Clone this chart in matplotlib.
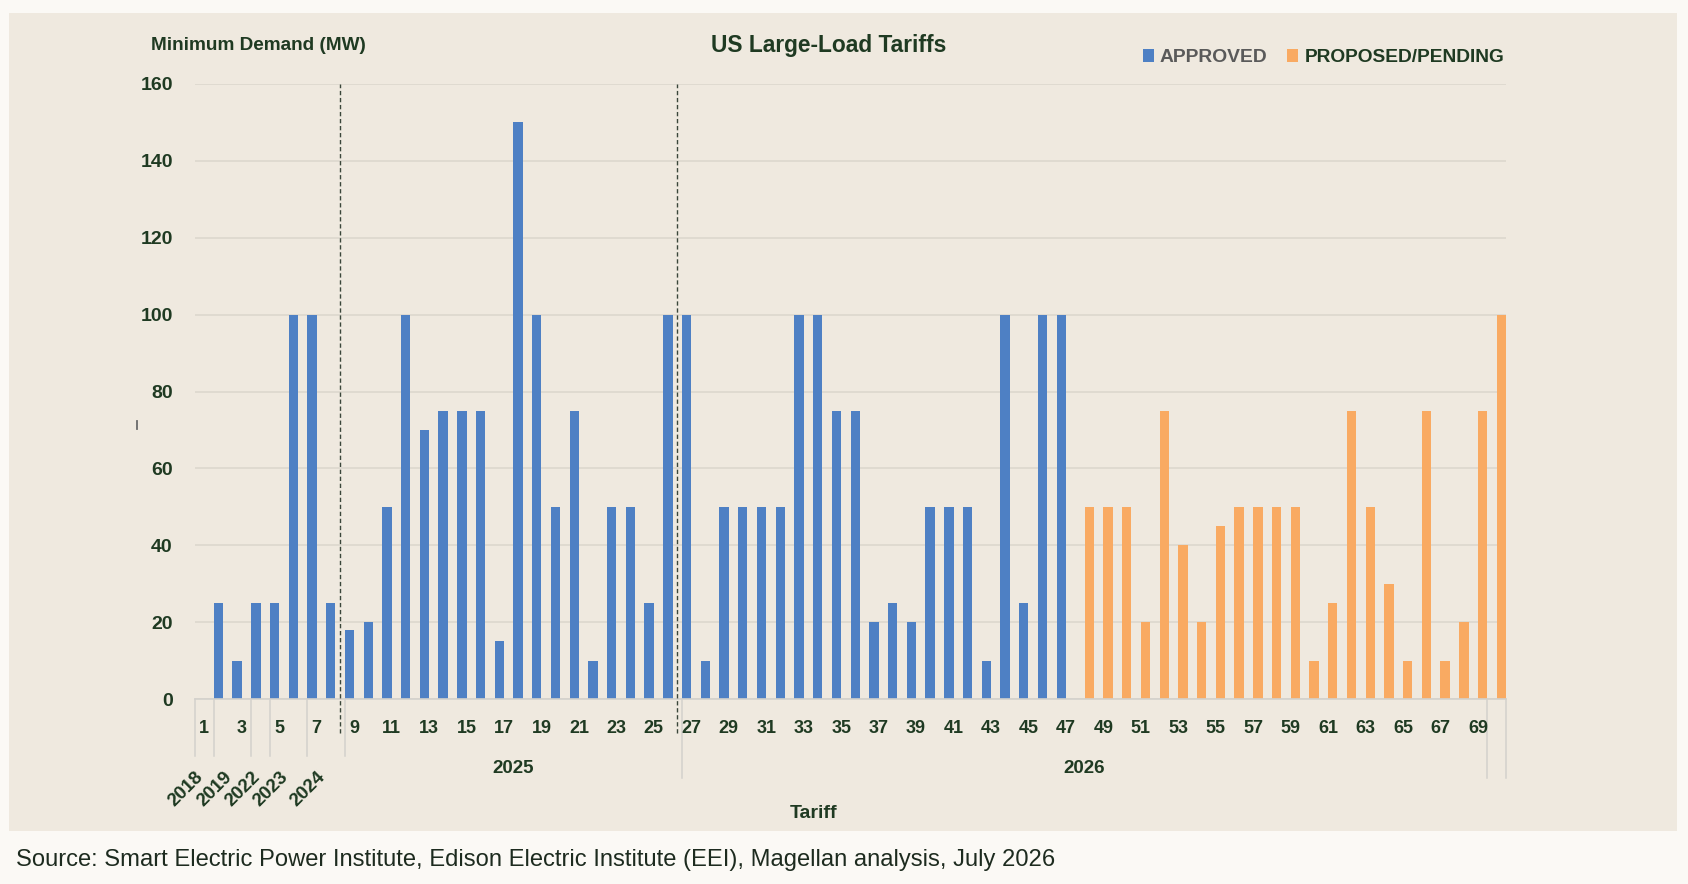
import matplotlib
matplotlib.use("Agg")
import matplotlib.pyplot as plt
from matplotlib.patches import Rectangle
from matplotlib.lines import Line2D
import numpy as np

plt.rcParams['font.family'] = ['Liberation Sans', 'DejaVu Sans']

# ---------------- data ----------------
categories = list(range(1, 71))
approved_vals = [25, 10, 25, 25, 100, 100, 25, 18, 20, 50, 100, 70, 75, 75, 75, 15, 150,
                 100, 50, 75, 10, 50, 50, 25, 100, 100, 10, 50, 50, 50, 50, 100, 100,
                 75, 75, 20, 25, 20, 50, 50, 50, 10, 100, 25, 100, 100]
proposed_vals = [50, 50, 50, 20, 75, 40, 20, 45, 50, 50, 50, 50, 10, 25, 75, 50, 30,
                 10, 75, 10, 20, 75, 100]
approved = [0] + approved_vals + [0] * len(proposed_vals)
proposed = [0] * (1 + len(approved_vals)) + proposed_vals
year_groups = ['2018', '2019', '2022', '2023', '2024', '2025', '2026', '']
year_spans = [1, 2, 1, 2, 2, 18, 43, 1]
y_ticks = [0, 20, 40, 60, 80, 100, 120, 140, 160]
dashed_after = [8, 26]

# ---------------- style ----------------
W, H = 1688, 884
BLUE = '#4E80C4'
ORANGE = '#F9AA62'
PANEL = '#EFE9DF'
OUTER = '#FBF9F5'
DARK = '#1F3A22'
GRID = '#DCD7CE'
SEP = '#D3D1CC'

fig = plt.figure(figsize=(W / 100, H / 100), dpi=100, facecolor=OUTER)
fig.patches.append(Rectangle((9 / W, 1 - 831 / H), (1677 - 9) / W, (831 - 13) / H,
                             transform=fig.transFigure, facecolor=PANEL,
                             edgecolor='none', zorder=-10))

ax_left, ax_right, ax_top, ax_bot = 195, 1506, 84, 699
ax = fig.add_axes([ax_left / W, 1 - ax_bot / H, (ax_right - ax_left) / W, (ax_bot - ax_top) / H])
ax.set_facecolor('none')

def fy(px):  # pixel row -> axes fraction
    return (ax_bot - px) / (ax_bot - ax_top)

def fx(px):
    return px / W

def fyy(px):
    return 1 - px / H

cats = np.array(categories, dtype=float)
ax.bar(cats - 0.25, approved, width=0.5, color=BLUE, zorder=3, linewidth=0)
ax.bar(cats + 0.25, proposed, width=0.5, color=ORANGE, zorder=3, linewidth=0)

ax.set_xlim(0.5, len(categories) + 0.5)
ax.set_ylim(0, 160)
ax.set_yticks(y_ticks)
ax.set_yticklabels([str(v) for v in y_ticks], fontsize=14, fontweight='bold', color=DARK)
ax.tick_params(axis='y', length=0, pad=16)
ax.set_xticks([])
ax.grid(axis='y', color=GRID, linewidth=1.2, zorder=0)
for s in ['top', 'right', 'left']:
    ax.spines[s].set_visible(False)
ax.spines['bottom'].set_color(SEP)
ax.spines['bottom'].set_linewidth(1.2)
ax.spines['bottom'].set_zorder(4)

xt = ax.get_xaxis_transform()

# category tick labels
for k in categories:
    if k % 2 == 1:
        ax.text(k, fy(733), str(k), transform=xt, ha='center', va='baseline',
                fontsize=13, fontweight='bold', color=DARK)

# year groups
starts = np.cumsum([0] + year_spans[:-1]) + 1
rotated = [bool(lbl) and n <= 2 for lbl, n in zip(year_groups, year_spans)]
bounds = [0.5] + list(np.cumsum(year_spans) + 0.5)
for i, b in enumerate(bounds):
    left_rot = rotated[i - 1] if i > 0 else True
    right_rot = rotated[i] if i < len(rotated) else False
    end = 756 if (left_rot or right_rot) else 778
    ax.plot([b, b], [0, fy(end)], transform=xt, color=SEP, lw=1.1, clip_on=False, zorder=2)

for lbl, s, n, rot in zip(year_groups, starts, year_spans, rotated):
    if not lbl:
        continue
    c = s + (n - 1) / 2
    if rot:
        ax.text(c - 0.5, fy(768), lbl, transform=xt, rotation=45, rotation_mode='anchor',
                ha='right', va='top', fontsize=13.5, fontweight='bold', color=DARK)
    else:
        ax.text(c, fy(773), lbl, transform=xt, ha='center', va='baseline',
                fontsize=13.5, fontweight='bold', color=DARK)

# dashed dividers
for d in dashed_after:
    ax.plot([d + 0.25, d + 0.25], [fy(733), 1.0], transform=xt, color='#3A463A', lw=1.0,
            linestyle=(0, (3.1, 1.95)), clip_on=False, zorder=5)

# texts
renderer = fig.canvas.get_renderer()

def fit(t, target):
    w = t.get_window_extent(renderer=renderer).width
    t.set_fontsize(t.get_fontsize() * target / w)
    return t

fit(fig.text(fx(829), fyy(52), 'US Large-Load Tariffs', ha='center', va='baseline',
             fontsize=16, fontweight='bold', color=DARK), 236)
fit(fig.text(fx(151), fyy(50), 'Minimum Demand (MW)', ha='left', va='baseline',
             fontsize=14, fontweight='bold', color=DARK), 216)
fig.text(fx(814), fyy(818), 'Tariff', ha='center', va='baseline',
         fontsize=14, fontweight='bold', color=DARK)

# legend
fig.patches.append(Rectangle((fx(1143), fyy(62)), 11 / W, 13 / H, transform=fig.transFigure,
                             facecolor=BLUE, edgecolor='none'))
fit(fig.text(fx(1160), fyy(62), 'APPROVED', ha='left', va='baseline', fontsize=14,
             fontweight='bold', color='#5A5A5A'), 108)
fig.patches.append(Rectangle((fx(1287), fyy(62)), 11 / W, 13 / H, transform=fig.transFigure,
                             facecolor=ORANGE, edgecolor='none'))
fit(fig.text(fx(1305), fyy(62), 'PROPOSED/PENDING', ha='left', va='baseline', fontsize=14,
             fontweight='bold', color=DARK), 201)

# small stray mark near y-axis
fig.lines.append(Line2D([fx(137), fx(137)], [fyy(421), fyy(429)], transform=fig.transFigure,
                        color='#6A6A6A', lw=1.3))

fit(fig.text(fx(16), fyy(866), 'Source: Smart Electric Power Institute, Edison Electric Institute (EEI), '
             'Magellan analysis, July 2026', ha='left', va='baseline', fontsize=16,
             color='#1D2B1F'), 1041)

fig.savefig('out.png', dpi=100, facecolor=OUTER)
